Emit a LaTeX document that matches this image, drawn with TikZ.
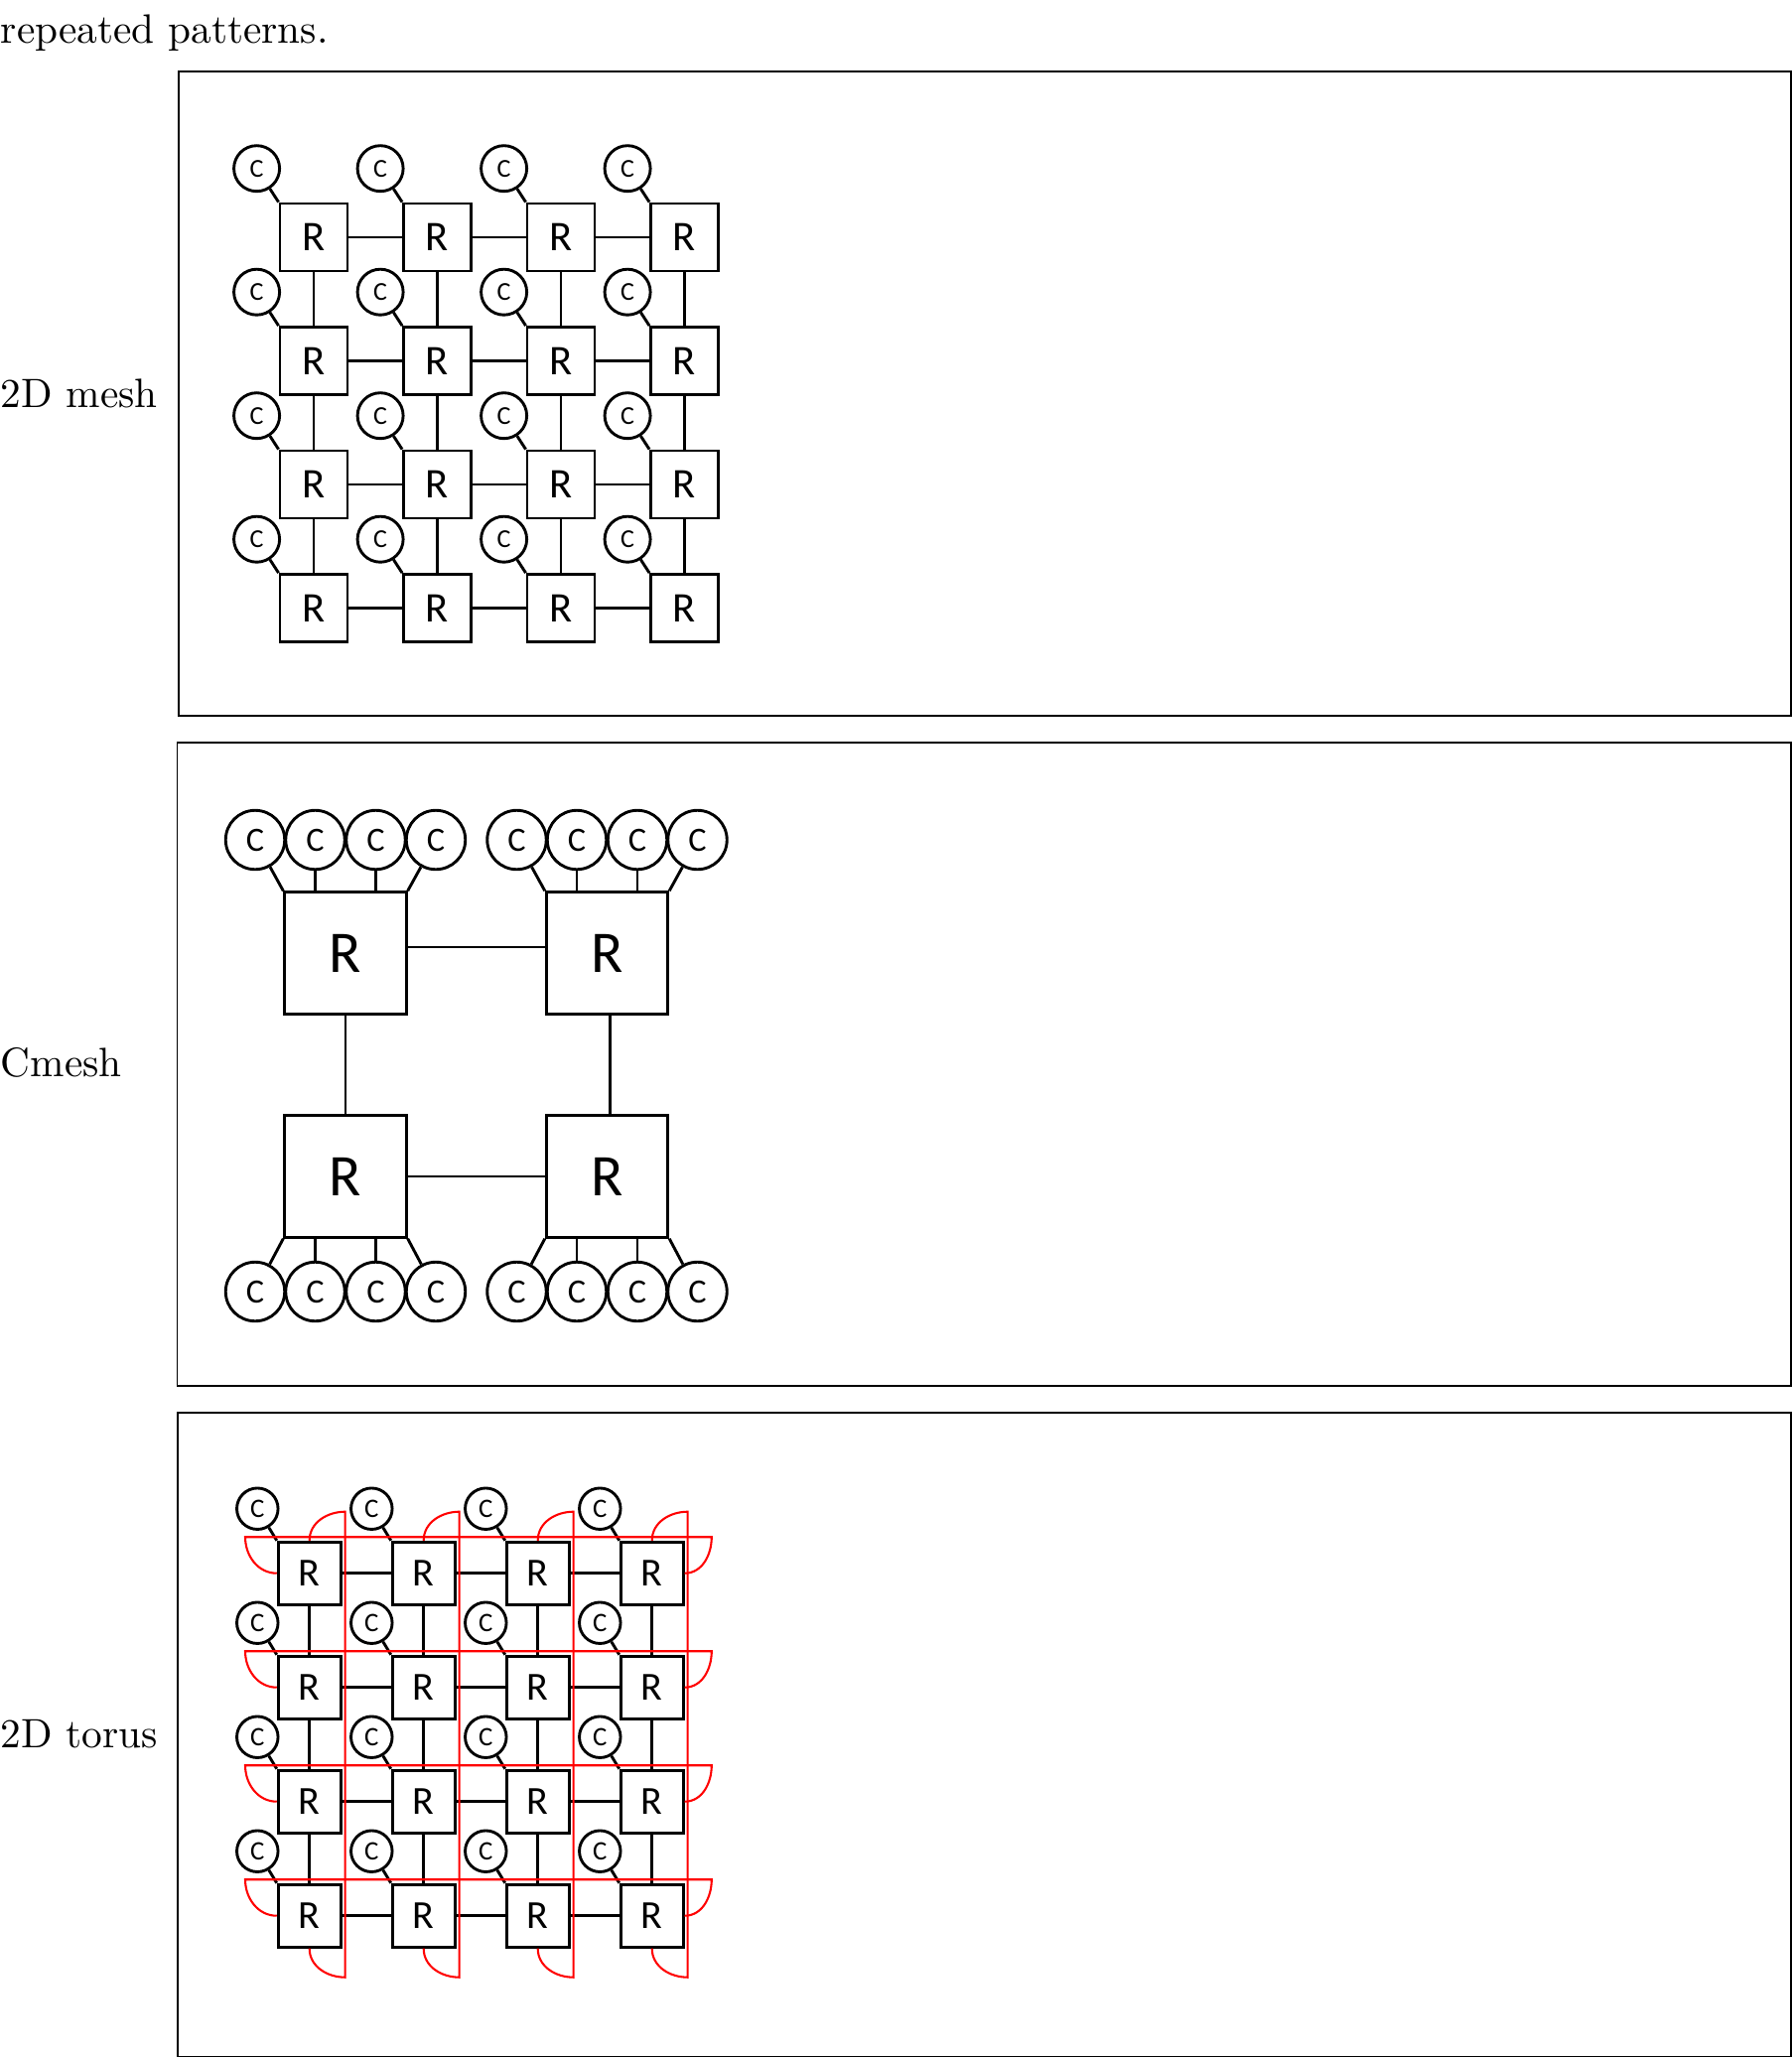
\documentclass[tikz,border=0pt]{standalone}
\usepackage{fontspec}
\newfontfamily\carl{Carlito}
\begin{document}
\begin{tikzpicture}[x=0.2421pt,y=-0.2421pt,
  frame/.style={draw,line width=0.45pt},
  link/.style={draw,line width=0.7pt},
  wrap/.style={draw,red,line width=0.5pt},
  mR/.style={draw,line width=0.7pt,rectangle,inner sep=0pt,minimum size=16.46pt,font=\carl\fontsize{10.3}{12}\selectfont},
  mC/.style={draw,line width=0.7pt,circle,inner sep=0pt,minimum size=11.14pt,font=\carl\fontsize{6.3}{7}\selectfont},
  cR/.style={draw,line width=0.7pt,rectangle,inner sep=0pt,minimum size=29.66pt,font=\carl\fontsize{14.4}{16}\selectfont},
  cC/.style={draw,line width=0.7pt,circle,inner sep=0pt,minimum size=14.4pt,font=\carl\fontsize{8.3}{9}\selectfont},
  tR/.style={draw,line width=0.7pt,rectangle,inner sep=0pt,minimum size=15.25pt,font=\carl\fontsize{9.7}{11}\selectfont},
  tC/.style={draw,line width=0.7pt,circle,inner sep=0pt,minimum size=10.05pt,font=\carl\fontsize{6.5}{7}\selectfont},
  lab/.style={anchor=west,inner sep=0pt,font=\fontsize{10}{12}\selectfont}
]
\useasboundingbox (0,0) rectangle (1805,2073);

% text
\node[anchor=base west,inner sep=0pt,font=\fontsize{10}{12}\selectfont] (toptext) at (0,43.5) {repeated patterns.};
\node[lab] (lab1) at (0,396) {2D mesh};
\node[lab] (lab2) at (0,1070) {Cmesh};
\node[lab] (lab3) at (0,1747) {2D torus};

% frames
\draw[frame] (179.6,72.3) rectangle (1804,720.7);
\draw[frame] (178.5,748) rectangle (1804,1396.4);
\draw[frame] (179.2,1423.3) rectangle (1804,2071.5);

% ---------- 2D mesh ----------
\foreach \i in {0,...,3} {
  \foreach \j in {0,...,3} {
    \pgfmathsetmacro\xx{316+124.5*\i}
    \pgfmathsetmacro\yy{239+124.5*\j}
    \node[mR] (m\i\j) at (\xx,\yy) {R};
    \node[mC] (mc\i\j) at (\xx-57.4,\yy-69.3) {C};
    \draw[link] (mc\i\j) -- (m\i\j.north west);
  }
}
\foreach \i [evaluate=\i as \k using int(\i+1)] in {0,1,2} {
  \foreach \j in {0,...,3} {
    \draw[link] (m\i\j) -- (m\k\j);
    \draw[link] (m\j\i) -- (m\j\k);
  }
}

% ---------- Cmesh ----------
\node[cR] (ca) at (348,960) {R};
\node[cR] (cb) at (611.5,960) {R};
\node[cR] (cc) at (348,1185) {R};
\node[cR] (cd) at (611.5,1185) {R};
\foreach \n/\x in {1/257,2/317.5,3/378.5,4/439} {
  \node[cC] (cat\n) at (\x,846) {C};
  \node[cC] (ccb\n) at (\x,1301) {C};
}
\foreach \n/\x in {1/520.5,2/581,3/642,4/702.5} {
  \node[cC] (cbt\n) at (\x,846) {C};
  \node[cC] (cdb\n) at (\x,1301) {C};
}
\foreach \t/\r in {cat/ca,cbt/cb} {
  \draw[link] (\t1) -- (\r.north west);
  \draw[link] (\t2) -- (\t2 |- \r.north);
  \draw[link] (\t3) -- (\t3 |- \r.north);
  \draw[link] (\t4) -- (\r.north east);
}
\foreach \t/\r in {ccb/cc,cdb/cd} {
  \draw[link] (\t1) -- (\r.south west);
  \draw[link] (\t2) -- (\t2 |- \r.south);
  \draw[link] (\t3) -- (\t3 |- \r.south);
  \draw[link] (\t4) -- (\r.south east);
}
\draw[link] ([yshift=1.45pt]ca.east) -- ([yshift=1.45pt]cb.west);
\draw[link] (cc) -- (cd);
\draw[link] (ca) -- (cc);
\draw[link] ([xshift=0.75pt]cb.south) -- ([xshift=0.75pt]cd.north);

% ---------- 2D torus ----------
\foreach \i in {0,...,3} {
  \foreach \j in {0,...,3} {
    \pgfmathsetmacro\xx{311.7+115*\i}
    \pgfmathsetmacro\yy{1584.7+115*\j}
    \node[tR] (t\i\j) at (\xx,\yy) {R};
    \node[tC] (tc\i\j) at (\xx-52.4,\yy-65) {C};
    \draw[link] (tc\i\j) -- (t\i\j.north west);
  }
}
\foreach \i [evaluate=\i as \k using int(\i+1)] in {0,1,2} {
  \foreach \j in {0,...,3} {
    \draw[link] (t\i\j) -- (t\k\j);
    \draw[link] (t\j\i) -- (t\j\k);
  }
}
% wrap-around links
\foreach \j in {0,...,3} {
  \pgfmathsetmacro\yl{1584.7+115*\j-36.5}
  \coordinate (hl\j) at (247,\yl);
  \coordinate (hr\j) at (716.8,\yl);
  \draw[wrap] (t0\j.west) to[out=180,in=-90] (hl\j) -- (hr\j) to[out=-90,in=0] (t3\j.east);
}
\foreach \i in {0,...,3} {
  \pgfmathsetmacro\xl{311.7+115*\i+36}
  \coordinate (vt\i) at (\xl,1522.7);
  \coordinate (vb\i) at (\xl,1991.7);
  \draw[wrap] (t\i0.north) to[out=90,in=180] (vt\i) -- (vb\i) to[out=180,in=-90] (t\i3.south);
}
\end{tikzpicture}
\end{document}
